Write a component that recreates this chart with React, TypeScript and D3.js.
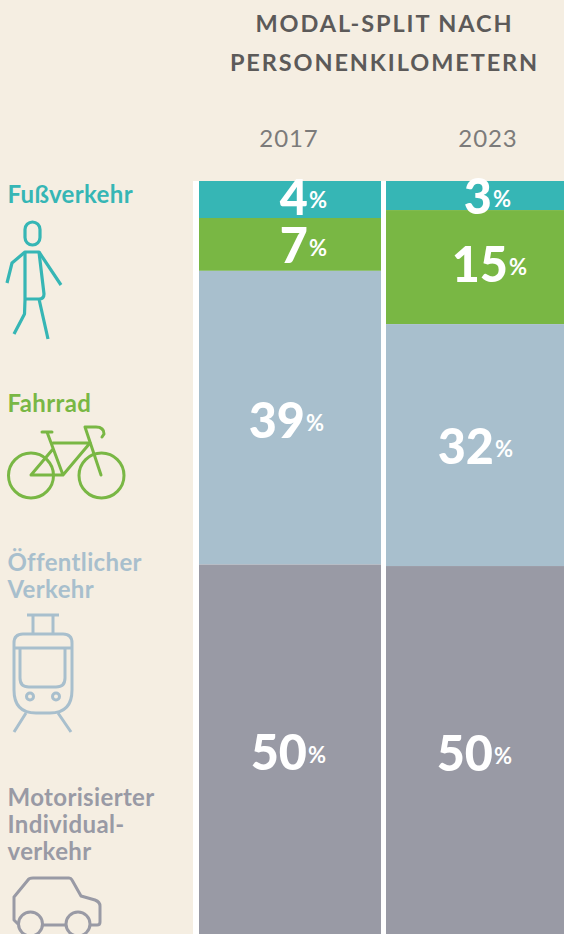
import React from "react";
import * as d3 from "d3";

const years = ["2017", "2023"];
const modes = ["Fußverkehr", "Fahrrad", "Öffentlicher Verkehr", "Motorisierter Individualverkehr"];
const colors = ["#36b6b5", "#79b744", "#a8bfcd", "#999aa5"];
const shares2017 = [4.9, 7.0, 38.9, 49.2];
const shares2023 = [3.85, 15.1, 32.05, 49.0];
const labels2017 = [4, 7, 39, 50];
const labels2023 = [3, 15, 32, 50];
const labelY2017 = [215, 263, 438, 770];
const labelY2023 = [214, 282, 464, 771];
const labelX2017 = [309, 309, 306, 308];
const labelX2023 = [493, 509, 495, 494];
const titleLines = ["MODAL-SPLIT NACH", "PERSONENKILOMETERN"];
const legendLines = [["Fußverkehr"], ["Fahrrad"], ["Öffentlicher", "Verkehr"], ["Motorisierter", "Individual-", "verkehr"]];
const legendY = [203, 412, 571, 806];

const FONT = "Lato, 'Open Sans', sans-serif";

export default function App() {
  const y = d3.scaleLinear().domain([0, 100]).range([181, 936]);
  const stack = d3.stack<any>().keys(modes.map((_, i) => String(i)));
  const rows = [shares2017, shares2023].map((r) => Object.fromEntries(r.map((v, i) => [String(i), v])));
  const series = stack(rows);
  const allLabels = [labels2017, labels2023];
  const allY = [labelY2017, labelY2023];
  const allX = [labelX2017, labelX2023];
  const w = 3.2;
  return (
    <svg width={564} height={934} style={{ position: "fixed", left: 0, top: 0, display: "block" }} fontFamily={FONT}>
      <rect width={564} height={934} fill="#f5eee2" />
      <rect x={193} y={181} width={371} height={753} fill="#ffffff" />
      {series.map((s, i) =>
        s.map((d, j) => (
          <rect key={`${i}-${j}`} x={j === 0 ? 199 : 386} width={j === 0 ? 182 : 178} y={y(d[0])} height={y(d[1]) - y(d[0])} fill={colors[i]} />
        ))
      )}
      {titleLines.map((t, i) => (
        <text key={t} x={384.5} y={32 + i * 39} textAnchor="middle" fontSize={23.5} fontWeight={700} letterSpacing={1.9} fill="#5c5a59">{t}</text>
      ))}
      {years.map((yr, j) => (
        <text key={yr} x={j === 0 ? 289 : 488} y={147} textAnchor="middle" fontSize={24} fill="#7c7b7a" letterSpacing={0.9}>{yr}</text>
      ))}
      {allLabels.map((ls, j) =>
        ls.map((v, i) => (
          <g key={`${j}-${i}`} fill="#fff">
            <text x={allX[j][i] - 1} y={allY[j][i]} textAnchor="end" fontSize={48.500} fontWeight={900}>{v}</text>
            <text x={allX[j][i]} y={allY[j][i] - 7} fontSize={22} fontWeight={700}>%</text>
          </g>
        ))
      )}
      {legendLines.map((ls, i) => (
        <g key={i} fill={colors[i]} fontSize={24} fontWeight={700} letterSpacing={0.35}>
          {ls.map((t, k) => <text key={t} x={7.5} y={legendY[i] + k * 27}>{t}</text>)}
        </g>
      ))}
      {/* pedestrian */}
      <g fill="none" stroke={colors[0]} strokeWidth={w} strokeLinejoin="round">
        <rect x={25} y={222} width={15} height={23} rx={7.5} />
        <path d="M7 283L12 263L25 252Q26 252 39 252L61 285" />
        <path d="M25 252L25 300L24.5 314L14 334M39 252L44 294Q44 299 39 299L25 299M39 299L48 339" />
      </g>
      {/* bicycle */}
      <g fill="none" stroke={colors[1]} strokeWidth={3} strokeLinecap="round" strokeLinejoin="round">
        <circle cx={31} cy={475.500} r={22.500} />
        <circle cx={101.500} cy={475.500} r={22.500} />
        <path d="M101 475L85 427H96Q104 427 104 434L102 437" />
        <path d="M42 432H52M47 432L63 475H31L53 449M53 443H90M63 475L90 443" />
      </g>
      {/* tram */}
      <g fill="none" stroke={colors[2]} strokeWidth={3}>
        <path d="M27 615H59M33 615V634M53 615V634" />
        <path d="M23 634H63Q72 634 72 643V690Q72 713 50 713H36Q14 713 14 690V643Q14 634 23 634Z" />
        <path d="M14 648H72M20 648V678Q20 687 29 687H56Q65 687 65 678V648" />
        <circle cx={30} cy={696.500} r={3.500} />
        <circle cx={56} cy={696.500} r={3.500} />
        <path d="M26 713L14 732M58 713L71 732" />
      </g>
      {/* car */}
      <g fill="none" stroke={colors[3]} strokeWidth={3} strokeLinejoin="round">
        <path d="M18 924L14 920V897L28 880Q29 878 33 878H69Q71 878 72 880L81 896L95 900Q100 902 100 906V922Q100 925 97 925H90M66 925H42" />
        <circle cx={30.500} cy={924} r={12} />
        <circle cx={78} cy={924} r={12} />
      </g>
    </svg>
  );
}
